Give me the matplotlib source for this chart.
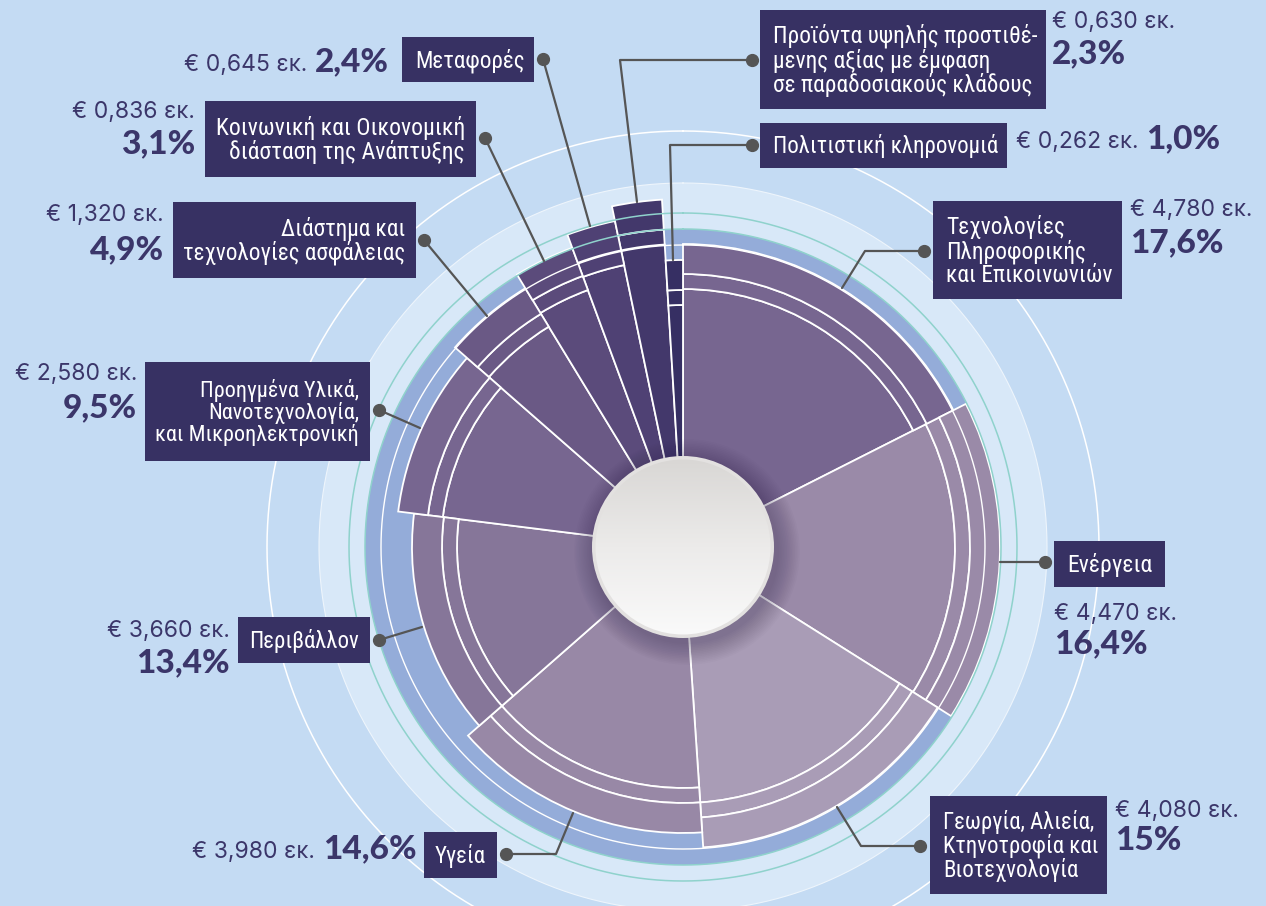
import numpy as np
import matplotlib
matplotlib.use('Agg')
import matplotlib.pyplot as plt
from matplotlib import font_manager
from matplotlib.patches import Rectangle, Circle
from matplotlib.colors import LinearSegmentedColormap

# data, clockwise from 12 o'clock
sectors = [
    'Τεχνολογίες\nΠληροφορικής\nκαι Επικοινωνιών',
    'Ενέργεια',
    'Γεωργία, Αλιεία,\nΚτηνοτροφία και\nΒιοτεχνολογία',
    'Υγεία',
    'Περιβάλλον',
    'Προηγμένα Υλικά,\nΝανοτεχνολογία,\nκαι Μικροηλεκτρονική',
    'Διάστημα και\nτεχνολογίες ασφάλειας',
    'Κοινωνική και Οικονομική\nδιάσταση της Ανάπτυξης',
    'Μεταφορές',
    'Προϊόντα υψηλής προστιθέ-\nμενης αξίας με έμφαση\nσε παραδοσιακούς κλάδους',
    'Πολιτιστική κληρονομιά',
]
amounts = [4.780, 4.470, 4.080, 3.980, 3.660, 2.580, 1.320, 0.836, 0.645, 0.630, 0.262]
shares = ['17,6%', '16,4%', '15%', '14,6%', '13,4%', '9,5%', '4,9%', '3,1%', '2,4%', '2,3%', '1,0%']

# styling
colors = ['#776690', '#9a8aa8', '#a99cb6', '#9888a6', '#867699', '#776690',
          '#6a5985', '#5b4b7b', '#4f4174', '#43386b', '#362f63']
radii = np.array([303, 317, 301, 286, 271, 287, 303, 319, 333, 348, 287])

BG = '#c4dbf3'
NAVY = '#373163'
TXT = '#3b366a'
W, H = 1266, 906
CX, CY = 683, 547
R = 420

# label boxes (x0, y0, x1, y1), text alignment inside
boxes = [
    (933, 201, 1122, 299, 'left'),
    (1054, 541, 1165, 587, 'left'),
    (930, 796, 1107, 894, 'left'),
    (424, 832, 497, 878, 'right'),
    (238, 617, 370, 663, 'right'),
    (145, 362, 370, 461, 'right'),
    (173, 202, 416, 278, 'right'),
    (205, 101, 476, 177, 'right'),
    (402, 37, 534, 82, 'left'),
    (760, 10, 1046, 109, 'left'),
    (760, 123, 1007, 168, 'left'),
]
# value text: x, baseline of amount, baseline of share (None = same line), alignment
values_pos = [
    (1130, 216, 252, 'left'),
    (1054, 620, 653, 'left'),
    (1115, 817, 850, 'left'),
    (417, 858, None, 'right'),
    (230, 637, 672, 'right'),
    (137, 380, 417, 'right'),
    (164, 221, 259, 'right'),
    (195, 118, 153, 'right'),
    (389, 71, None, 'right'),
    (1052, 28, 63, 'left'),
    (1016, 148, None, 'left'),
]
leaders = [
    [(842, 288), (865, 251), (924, 251)],
    [(1000, 562), (1045, 562)],
    [(837, 807), (861, 846), (920, 846)],
    [(573, 813), (556, 854), (506, 854)],
    [(422, 627), (379, 640)],
    [(420, 428), (379, 410)],
    [(487, 316), (424, 240)],
    [(544, 261), (485, 138)],
    [(590, 226), (543, 59)],
    [(637, 202), (620, 60), (752, 60)],
    [(673, 260), (670, 145), (752, 145)],
]


def pick_label_font():
    fonts = font_manager.fontManager.ttflist
    names = {f.name for f in fonts}
    for n in ['Liberation Sans Narrow', 'Roboto Condensed', 'Open Sans Condensed']:
        if n in names:
            return dict(family=n)
    for n in ['Roboto', 'Noto Sans', 'DejaVu Sans', 'Open Sans']:
        if any(f.name == n and 'condensed' in str(f.stretch) for f in fonts):
            return dict(family=n, stretch='condensed')
    return dict(family='Roboto')


LABEL_FONT = pick_label_font()
AMT_FONT = ['Inter', 'Noto Sans', 'DejaVu Sans']
PCT_FONT = ['Lato', 'DejaVu Sans']

fig = plt.figure(figsize=(W / 100, H / 100), dpi=100)
fig.patch.set_facecolor(BG)

# polar part: rings + sectors
axp = fig.add_axes([(CX - R) / W, (H - CY - R) / H, 2 * R / W, 2 * R / H], projection='polar')
axp.set_theta_zero_location('N')
axp.set_theta_direction(-1)
axp.set_ylim(0, R)
axp.axis('off')

t = np.linspace(0, 2 * np.pi, 721)
axp.bar(0, 364, width=2 * np.pi, align='edge', color='#d8e8f8', linewidth=0)
axp.plot(t, np.full_like(t, 416), color='white', lw=1.1)
axp.plot(t, np.full_like(t, 364), color='#eef5fc', lw=0.8)
axp.plot(t, np.full_like(t, 334), color='#8fd2cc', lw=1.1)
axp.bar(0, 318, width=2 * np.pi, align='edge', color='#94acd9', linewidth=0)
axp.plot(t, np.full_like(t, 318), color='#8fd2cc', lw=1.1)
axp.plot(t, np.full_like(t, 302), color='white', lw=1.0)

total = sum(amounts)
width = 2 * np.pi * np.array(amounts) / total
start = np.concatenate([[0], np.cumsum(width)[:-1]])
for lo, hi in [(0, radii - 45), (radii - 45, radii - 30), (radii - 30, radii)]:
    axp.bar(start, hi - lo, width=width, bottom=lo, align='edge',
            color=colors, edgecolor='white', linewidth=1.3)

# overlay in pixel coordinates
ax = fig.add_axes([0, 0, 1, 1])
ax.set_xlim(0, W)
ax.set_ylim(H, 0)
ax.axis('off')

# centre disc with soft shadow
for k in range(14):
    ax.add_patch(Circle((CX + 4, CY + 5), 92 + k * 1.6, color='#2a1f45', alpha=0.025, lw=0))
ax.add_patch(Circle((CX, CY), 91, color='#e3e1e0', lw=0))
inner = Circle((CX, CY), 87.5, transform=ax.transData)
grad = np.linspace(0, 1, 256).reshape(-1, 1)
cmap = LinearSegmentedColormap.from_list('disc', ['#d9d7d5', '#ecebea', '#fafafa'])
im = ax.imshow(grad, cmap=cmap, extent=(CX - 88, CX + 88, CY + 88, CY - 88),
               origin='upper', aspect='auto', zorder=3)
im.set_clip_path(inner)
ax.set_xlim(0, W)
ax.set_ylim(H, 0)

# leaders
for pts in leaders:
    xs, ys = zip(*pts)
    ax.plot(xs, ys, color='#555555', lw=1.6, zorder=4, solid_capstyle='round')
    ax.plot(xs[-1], ys[-1], 'o', color='#555555', ms=8.5, zorder=4)

fig.canvas.draw()
renderer = fig.canvas.get_renderer()
inv = ax.transData.inverted()


def extent(txt):
    bb = txt.get_window_extent(renderer)
    (x0, y0), (x1, y1) = inv.transform([(bb.x0, bb.y0), (bb.x1, bb.y1)])
    return x0, x1, abs(y1 - y0)


# label boxes, font size shrunk until the text fits its box
for name, (x0, y0, x1, y1, al) in zip(sectors, boxes):
    ax.add_patch(Rectangle((x0, y0), x1 - x0, y1 - y0, color=NAVY, lw=0, zorder=5))
    tx = x0 + 13 if al == 'left' else x1 - 11
    lab = ax.text(tx, (y0 + y1) / 2 + 1, name, ha=al, va='center', multialignment=al,
                  color='white', fontsize=17, linespacing=1.0, zorder=6, **LABEL_FONT)
    a, b, h = extent(lab)
    s = min((x1 - x0 - 22) / (b - a), (y1 - y0 - 6) / h, 1.0)
    lab.set_fontsize(17 * s)

# values
for amt, sh, (x, y1, y2, al) in zip(amounts, shares, values_pos):
    amt_txt = '€ ' + ('%.3f' % amt).replace('.', ',') + ' εκ.'
    akw = dict(va='baseline', fontsize=16.5, color=TXT, family=AMT_FONT, zorder=6)
    pkw = dict(va='baseline', fontsize=24, fontweight='black', color=TXT,
               family=PCT_FONT, zorder=6)
    if y2 is not None:
        ax.text(x, y1, amt_txt, ha=al, **akw)
        ax.text(x, y2, sh, ha=al, **pkw)
    elif al == 'right':
        p = ax.text(x, y1, sh, ha='right', **pkw)
        ax.text(extent(p)[0] - 8, y1, amt_txt, ha='right', **akw)
    else:
        a = ax.text(x, y1, amt_txt, ha='left', **akw)
        ax.text(extent(a)[1] + 8, y1, sh, ha='left', **pkw)

fig.savefig('out.png', dpi=100, facecolor=BG)
